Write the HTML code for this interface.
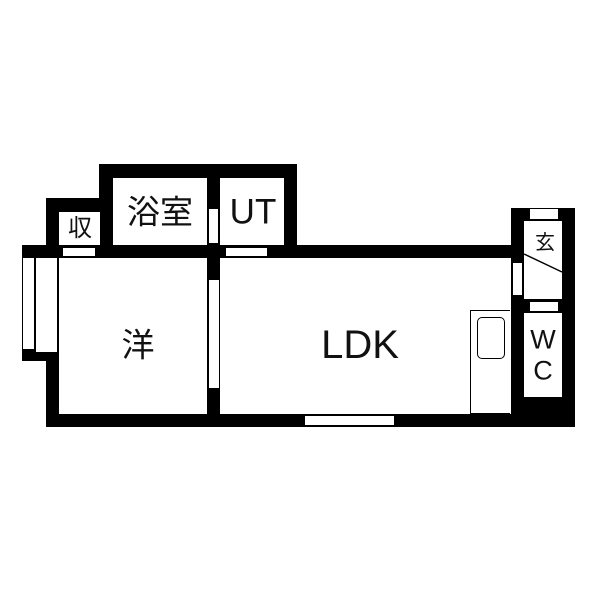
<!DOCTYPE html>
<html><head><meta charset="utf-8"><style>
body{margin:0;background:#fff;width:600px;height:600px;position:relative;overflow:hidden;font-family:"Liberation Sans","Noto Sans CJK JP",sans-serif}
.b,.w{position:absolute}
.b{background:#000}
.w{background:#fff}
.t{position:absolute;color:#111;line-height:1;transform:translate(-50%,-50%);white-space:nowrap}
</style></head><body>
<div class="b" style="left:99px;top:164px;width:198px;height:94px"></div>
<div class="b" style="left:46px;top:198px;width:67px;height:60px"></div>
<div class="b" style="left:46px;top:245px;width:466px;height:182px"></div>
<div class="b" style="left:22px;top:245px;width:30px;height:116px"></div>
<div class="b" style="left:511px;top:208px;width:64px;height:219px"></div>

<div class="w" style="left:59px;top:212px;width:41px;height:33px"></div>
<div class="w" style="left:113px;top:178px;width:94px;height:67px"></div>
<div class="w" style="left:220px;top:178px;width:64px;height:67px"></div>
<div class="w" style="left:59px;top:258px;width:148px;height:156px"></div>
<div class="w" style="left:220px;top:258px;width:291px;height:156px"></div>
<div class="w" style="left:524px;top:221px;width:38px;height:78px"></div>
<div class="w" style="left:524px;top:313px;width:38px;height:84px"></div>

<div class="w" style="left:23px;top:258px;width:11px;height:91px"></div>
<div class="w" style="left:36px;top:258px;width:21px;height:94px"></div>
<div class="b" style="left:57px;top:258px;width:2px;height:94px"></div>
<div class="w" style="left:63px;top:248px;width:32px;height:8px"></div>
<div class="w" style="left:226px;top:248px;width:41px;height:8px"></div>
<div class="w" style="left:209px;top:209px;width:9px;height:34px"></div>
<div class="w" style="left:209px;top:280px;width:10px;height:108px"></div>
<div class="w" style="left:305px;top:416px;width:89px;height:9px"></div>
<div class="w" style="left:530px;top:209px;width:28px;height:10px"></div>
<div class="w" style="left:530px;top:302px;width:28px;height:9px"></div>
<div class="w" style="left:513px;top:263px;width:9px;height:32px"></div>

<div style="position:absolute;left:470px;top:310px;width:40px;height:104px;border:1px solid #000;border-right:none;box-sizing:border-box"></div>
<div style="position:absolute;left:477px;top:317px;width:28px;height:42px;border:1.5px solid #000;border-radius:5px;box-sizing:border-box"></div>

<svg style="position:absolute;left:0;top:0" width="600" height="600"><line x1="524" y1="254" x2="562" y2="272" stroke="#000" stroke-width="1.5"/></svg>

<div class="t" style="left:160px;top:212px;font-size:33px">浴室</div>
<div class="t" style="left:253px;top:212px;font-size:35px">UT</div>
<div class="t" style="left:80px;top:229px;font-size:24px">収</div>
<div class="t" style="left:138px;top:345px;font-size:33px">洋</div>
<div class="t" style="left:360px;top:345px;font-size:40px">LDK</div>
<div class="t" style="left:545px;top:243px;font-size:20px">玄</div>
<div class="t" style="left:543px;top:340px;font-size:27px">W</div>
<div class="t" style="left:543px;top:371px;font-size:27px">C</div>
</body></html>
